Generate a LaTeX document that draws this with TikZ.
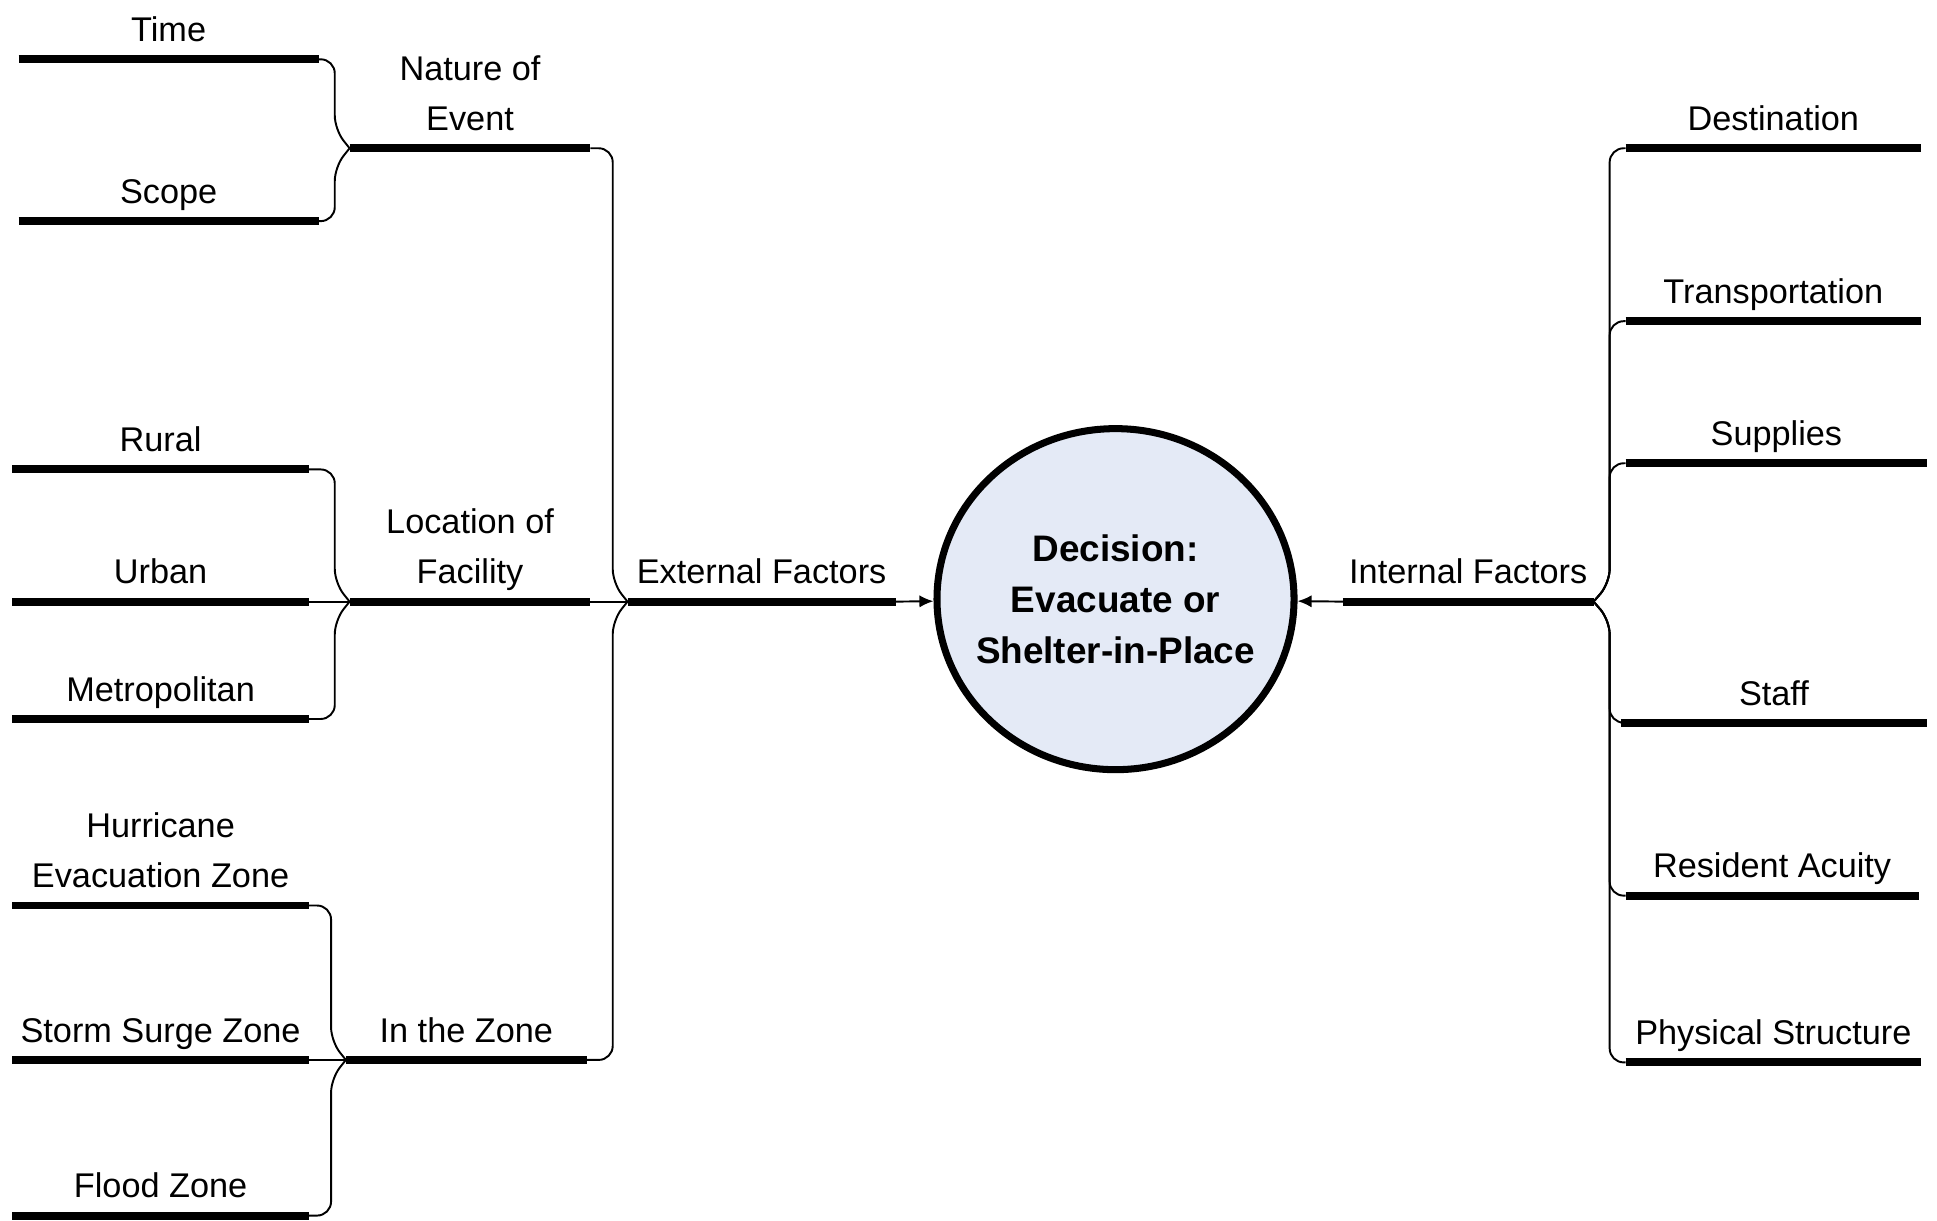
\documentclass[tikz,border=0pt]{standalone}
\usepackage{fontspec}
\setmainfont{Liberation Sans}
\usetikzlibrary{arrows.meta,calc,shapes.geometric}
\definecolor{decfill}{RGB}{228,234,246}

\begin{document}
\begin{tikzpicture}
  [x=0.0247cm,y=-0.0247cm,
   bar/.style={line width=4.5pt},
   link/.style={line width=1.1pt,rounded corners=8pt},
   lbl/.style={anchor=south,inner sep=0pt,text depth=0pt,align=center,
     font=\fontsize{19.5}{28.5}\selectfont}]
  \useasboundingbox (0,0) rectangle (1568,988);

  % external factors, left hand side
  \foreach \nm/\xa/\xb/\y/\txt in {time/15/258/48/Time, scope/15/258/179/Scope,
      rural/10/250/380/Rural, urban/10/250/487/Urban, metro/10/250/582/Metropolitan,
      hurr/10/250/733/Hurricane\\Evacuation Zone, storm/10/250/858/Storm Surge Zone,
      flood/10/250/984/Flood Zone,
      nature/283/478/120/Nature of\\Event, loc/283/478/487/Location of\\Facility,
      zone/280/475/858/In the Zone, ext/508/725/487/External Factors}
  {
    \coordinate (\nm-l) at (\xa,\y);
    \coordinate (\nm-r) at (\xb,\y);
    \draw[bar] (\nm-l) -- (\nm-r);
    \node[lbl] (\nm) at ({(\xa+\xb)/2},{\y-14}) {\txt};
  }

  \foreach \a/\b/\s in {time-r/nature-l/-1, scope-r/nature-l/1,
      rural-r/loc-l/-1, metro-r/loc-l/1, hurr-r/zone-l/-1, flood-r/zone-l/1,
      nature-r/ext-l/-1, zone-r/ext-l/1}
    \draw[link] (\a) -| ($(\b)+(-12,15*\s)$) -- (\b);
  \draw[link] (urban-r) -- (loc-l);
  \draw[link] (storm-r) -- (zone-l);
  \draw[link] (loc-r) -- (ext-l);

  % internal factors, right hand side
  \foreach \nm/\xa/\xb/\y/\txt in {dest/1316/1555/120/Destination,
      trans/1316/1555/260/Transportation, supp/1316/1560/375/Supplies,
      staff/1312/1560/585/Staff, resid/1316/1553/725/Resident Acuity,
      phys/1316/1555/860/Physical Structure, int/1087/1290/487/Internal Factors}
  {
    \coordinate (\nm-l) at (\xa,\y);
    \coordinate (\nm-r) at (\xb,\y);
    \draw[bar] (\nm-l) -- (\nm-r);
    \node[lbl] (\nm) at ({(\xa+\xb)/2},{\y-14}) {\txt};
  }

  \foreach \b/\s in {dest/-1, trans/-1, supp/-1, staff/1, resid/1, phys/1}
    \draw[link] (int-r) -- ($(int-r)+(13,15*\s)$) |- (\b-l);

  % the decision
  \node[ellipse,draw,line width=4pt,fill=decfill,inner xsep=-9pt,inner ysep=0pt,
        minimum width=7.14cm,minimum height=6.82cm,align=center,
        font=\bfseries\fontsize{21}{29}\selectfont] (dec) at (903,485)
    {Decision:\\Evacuate or\\Shelter-in-Place};
  \draw[link,-{Latex[length=8pt,width=7pt]}] (ext-r) -- (dec);
  \draw[link,-{Latex[length=8pt,width=7pt]}] (int-l) -- (dec);

\end{tikzpicture}
\end{document}
